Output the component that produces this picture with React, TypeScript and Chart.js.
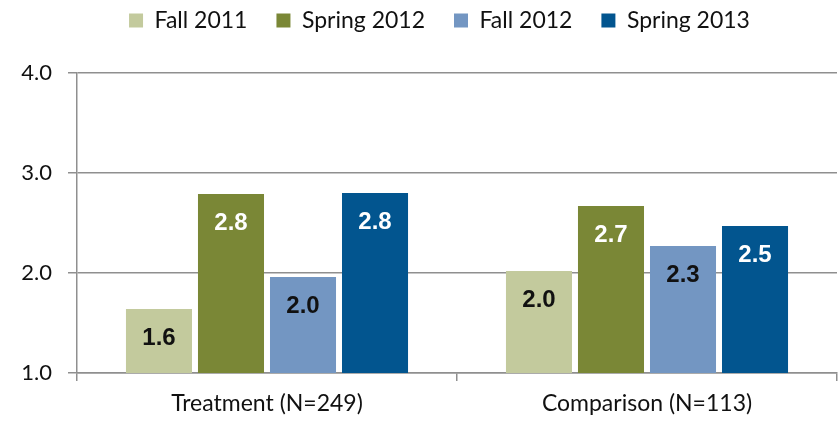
import React, { useEffect, useRef } from "react";
import { Chart, registerables } from "chart.js";

Chart.register(...registerables);

const categories = ["Treatment (N=249)", "Comparison (N=113)"];
const seriesNames = ["Fall 2011", "Spring 2012", "Fall 2012", "Spring 2013"];
const fall2011 = [1.64, 2.02];
const spring2012 = [2.79, 2.67];
const fall2012 = [1.96, 2.27];
const spring2013 = [2.8, 2.47];
const yTicks = [1, 2, 3, 4];

const seriesValues = [fall2011, spring2012, fall2012, spring2013];
const seriesColors = ["#C3CA9D", "#7A8736", "#7396C2", "#02558F"];
const labelColors = ["#111111", "#FFFFFF", "#111111", "#FFFFFF"];

const GRID = "#8f8f8f";
const FONT = "Lato, 'Open Sans', sans-serif";

const layoutPatch = {
  id: "layoutPatch",
  beforeLayout(chart: any) {
    const lg = chart.legend;
    if (lg && !lg.__patched) {
      const orig = lg.fit;
      lg.fit = function () {
        orig.call(this);
        this.height = 93;
      };
      lg.__patched = true;
    }
  },
  afterLayout(chart: any) {
    const lg = chart.legend;
    if (lg) {
      lg.left += 21;
      lg.right += 21;
    }
  },
};

const valueLabels = {
  id: "valueLabels",
  afterDatasetsDraw(chart: any) {
    const ctx = chart.ctx;
    ctx.save();
    ctx.font = "bold 24px 'Liberation Sans', Arial, sans-serif";
    ctx.textAlign = "center";
    ctx.textBaseline = "middle";
    chart.data.datasets.forEach((ds: any, di: number) => {
      const meta = chart.getDatasetMeta(di);
      meta.data.forEach((bar: any, i: number) => {
        const v = ds.data[i];
        ctx.fillStyle = labelColors[di];
        ctx.fillText(Number(v).toFixed(1), bar.x, bar.y + 29);
      });
    });
    ctx.restore();
  },
};

export default function App() {
  const ref = useRef<HTMLCanvasElement | null>(null);
  useEffect(() => {
    if (!ref.current) return;
    const chart = new Chart(ref.current, {
      type: "bar",
      data: {
        labels: categories,
        datasets: seriesNames.map((name, i) => ({
          label: name,
          data: seriesValues[i],
          backgroundColor: seriesColors[i],
          borderWidth: 0,
          categoryPercentage: 0.758,
          barPercentage: 0.917,
        })),
      },
      options: {
        responsive: false,
        animation: false,
        layout: { padding: { left: 0, right: 1, top: -20, bottom: 0 } },
        plugins: {
          tooltip: { enabled: false },
          legend: {
            position: "top",
            labels: {
              boxWidth: 14,
              boxHeight: 14,
              padding: 29,
              color: "#111",
              font: { family: FONT, size: 23 },
            },
          },
        },
        scales: {
          x: {
            grid: {
              display: true,
              drawOnChartArea: false,
              tickLength: 8,
              color: GRID,
              lineWidth: 1.5,
            },
            border: { display: true, color: GRID, width: 1.5 },
            ticks: {
              color: "#111",
              font: { family: FONT, size: 23 },
              padding: 9,
            },
            afterFit(s: any) {
              s.height = 49;
            },
          },
          y: {
            min: 1,
            max: 4,
            afterBuildTicks(s: any) {
              s.ticks = yTicks.map((v) => ({ value: v }));
            },
            grid: {
              color: GRID,
              lineWidth: 1.5,
              tickLength: 9,
            },
            border: { display: true, color: GRID, width: 1.5 },
            ticks: {
              color: "#111",
              font: { family: FONT, size: 22 },
              padding: 16,
              callback: (v: any) => Number(v).toFixed(1),
            },
            afterFit(s: any) {
              s.width = 77;
            },
          },
        },
      },
      plugins: [layoutPatch, valueLabels],
    });
    return () => chart.destroy();
  }, []);
  return (
    <div style={{ position: "fixed", left: 0, top: 0, width: 838, height: 422, background: "#fff" }}>
      <canvas ref={ref} width={838} height={422} />
    </div>
  );
}
